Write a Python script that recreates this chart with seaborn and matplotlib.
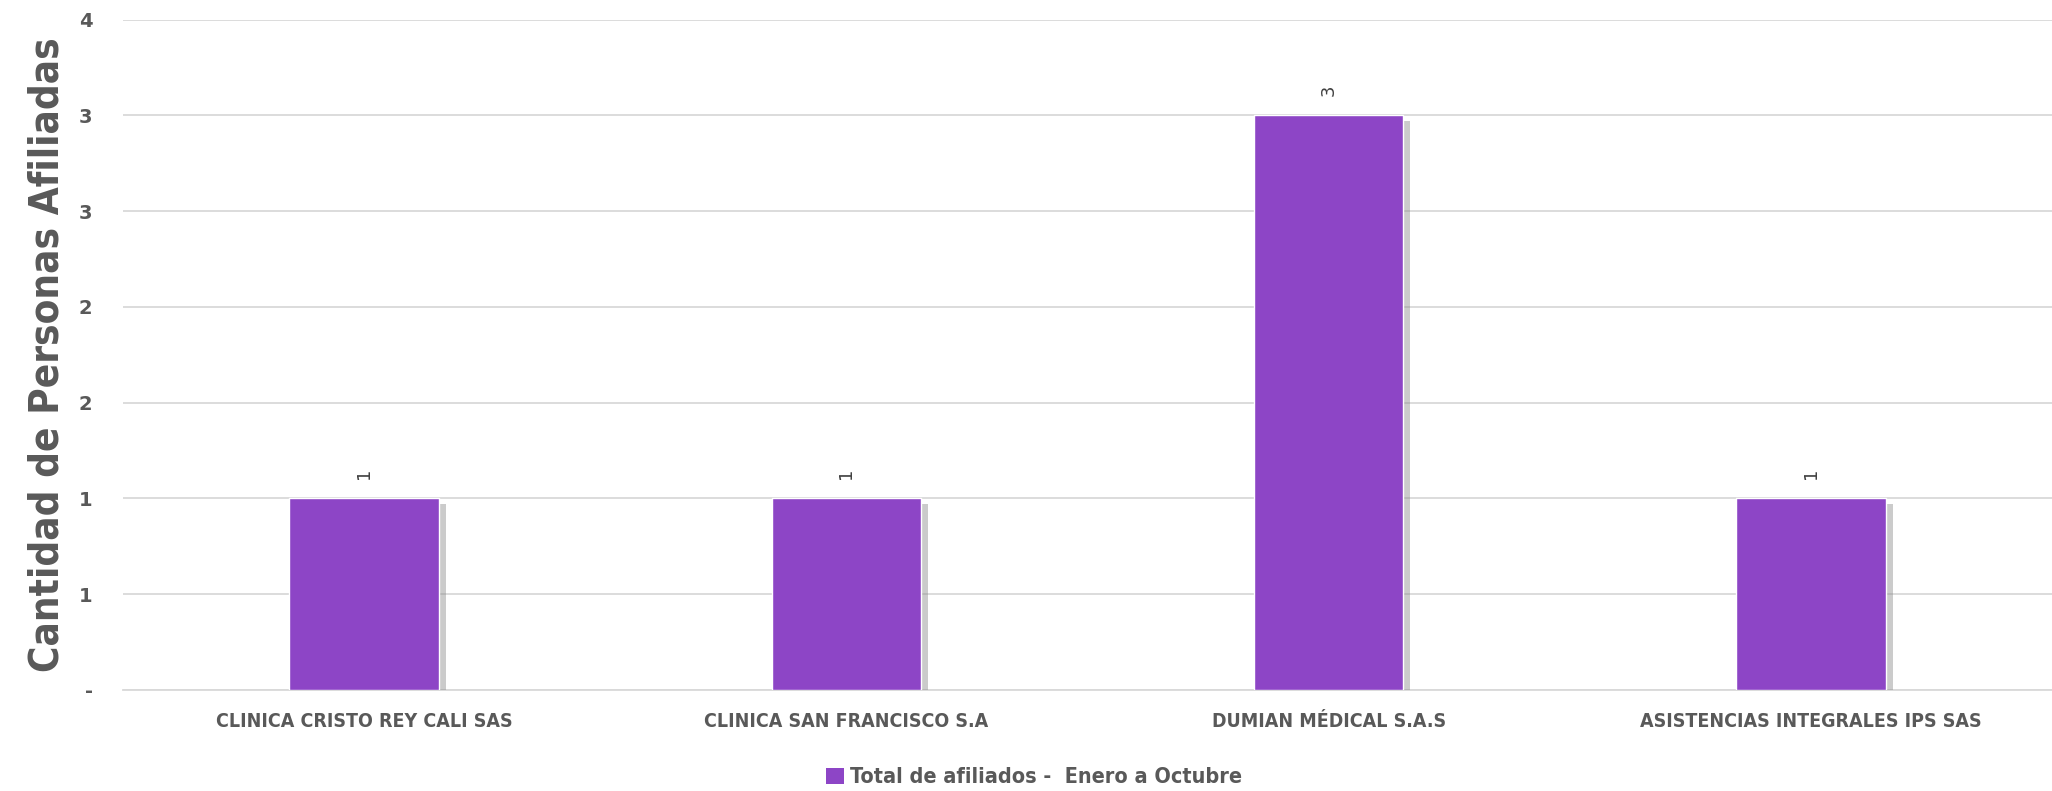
import numpy as np
import pandas as pd
import matplotlib
matplotlib.use('Agg')
import matplotlib.pyplot as plt
import matplotlib.patheffects as pe
from matplotlib.patches import Patch
import seaborn as sns

ips = ['CLINICA CRISTO REY CALI SAS', 'CLINICA SAN FRANCISCO S.A',
       'DUMIAN MÉDICAL S.A.S', 'ASISTENCIAS INTEGRALES IPS SAS']
afiliados = [1, 1, 3, 1]
serie = 'Total de afiliados -  Enero a Octubre'
y_ticks = [0, 0.5, 1, 1.5, 2, 2.5, 3, 3.5]
y_labels = ['-', '1', '1', '2', '2', '3', '3', '4']

dat = pd.DataFrame({'ips': ips, 'afiliados': afiliados})

sns.set_style('white')
plt.rcParams['font.family'] = ['DejaVu Sans']
gris = '#595959'
morado = '#8D45C6'

fig = plt.figure(figsize=(20.52, 7.91), dpi=100)
ax = fig.add_axes([0.06, 0.128, 0.94, 0.847])

sns.barplot(data=dat, x='ips', y='afiliados', color=morado, width=0.31,
            saturation=1, ax=ax, zorder=3)
for bar in ax.patches:
    bar.set_path_effects([pe.SimplePatchShadow(offset=(5, -4), shadow_rgbFace='#8c8c8c', alpha=0.45),
                          pe.Normal()])

# data labels
for i, v in enumerate(afiliados):
    ax.text(i, v + 0.1, str(v), rotation=90, ha='center', va='bottom',
            fontsize=13, color='#404040')

ax.set_ylim(0, 3.5)
ax.set_xlim(-0.5, len(ips) - 0.5)
ax.set_yticks(y_ticks)
ax.set_yticklabels(y_labels, fontsize=14, fontweight='bold', color=gris)
ax.yaxis.grid(True, color='#d9d9d9', linewidth=1.3, zorder=0)
ax.set_axisbelow(True)
ax.tick_params(axis='y', length=0, pad=22)

ax.set_xticks(np.arange(len(ips)))
ax.set_xticklabels(ips, fontsize=14, fontweight='bold', color=gris, fontstretch='condensed')
ax.tick_params(axis='x', length=0, pad=16)
# separator ticks between categories
ax.set_xticks(np.arange(len(ips)) - 0.5, minor=True)
ax.tick_params(axis='x', which='minor', length=6, color='#d9d9d9', width=1.3)

ax.set_xlabel('')
ax.set_ylabel('Cantidad de Personas Afiliadas', fontsize=29, fontweight='bold', color=gris,
              fontstretch='condensed')
ax.yaxis.set_label_coords(-0.029, 0.5)

for s in ['top', 'right', 'left']:
    ax.spines[s].set_visible(False)
ax.spines['bottom'].set_color('#d9d9d9')
ax.spines['bottom'].set_linewidth(1.3)

handles = [Patch(facecolor=morado, edgecolor='none', label=serie)]
leg = fig.legend(handles=handles, loc='lower center', bbox_to_anchor=(0.504, -0.02),
                 frameon=False, handlelength=0.8, handleheight=0.8, handletextpad=0.3,
                 prop={'size': 15.5, 'weight': 'bold', 'stretch': 'condensed'})
for t in leg.get_texts():
    t.set_color(gris)

fig.savefig('out.png', dpi=100)
